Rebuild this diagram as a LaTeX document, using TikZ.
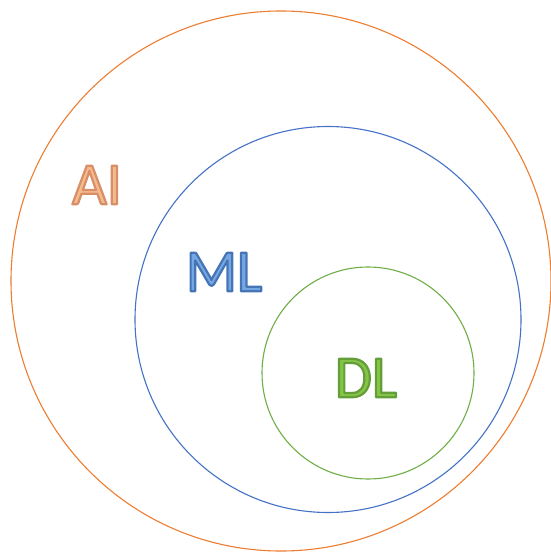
\documentclass[tikz,border=0pt]{standalone}
\usepackage{fontspec}
\setmainfont{Carlito}
\definecolor{ailine}{HTML}{ED7D31}
\definecolor{mlline}{HTML}{4472C4}
\definecolor{dlline}{HTML}{70AD47}
% outlined text: fill colour rgb, stroke colour rgb
\newcommand{\outlinedtext}[3]{\special{pdf:code q 2 Tr 2.2 w 1 j #2 rg #3 RG}#1\special{pdf:code Q}}
\tikzset{
  ring/.style={draw=#1, line width=1.1pt, circle, inner sep=0pt},
  lbl/.style={font=\fontsize{60}{60}\selectfont, inner sep=0pt}
}
\begin{document}
\begin{tikzpicture}[x=1pt,y=-1pt]
\useasboundingbox (0,0) rectangle (550,556);
\node[ring=ailine, minimum size=540pt] (ai) at (281,281) {};
\node[ring=mlline, minimum size=386pt] (ml) at (328,319.5) {};
\node[ring=dlline, minimum size=212pt] (dl) at (368,373) {};
\node[lbl] (ait) at (97,185) {\outlinedtext{AI}{0.97 0.73 0.56}{0.84 0.56 0.40}};
\node[lbl] (mlt) at (224,272) {\outlinedtext{ML}{0.46 0.66 0.89}{0.27 0.46 0.71}};
\node[lbl] (dlt) at (366,378) {\outlinedtext{DL}{0.52 0.77 0.28}{0.39 0.62 0.22}};
\end{tikzpicture}
\end{document}
